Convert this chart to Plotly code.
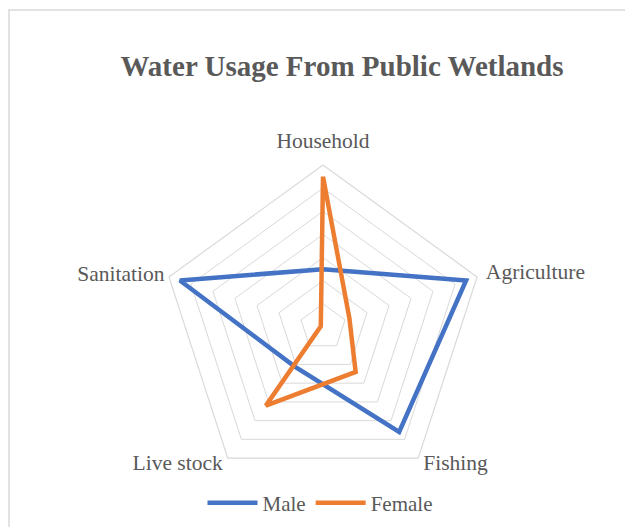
import plotly.graph_objects as go

categories = ["Household", "Agriculture", "Fishing", "Live stock", "Sanitation"]
male = [25, 65, 56, 21, 65]
female = [65, 12, 24, 42, 1]
series_names = ["Male", "Female"]
colors = ["#4472C4", "#ED7D31"]

W, H = 625, 527
cx, cy, R = 323, 327, 162
RMAX = 70
LMAX = 80  # range of the overlay polar used for category labels
R2 = R * LMAX / RMAX

fig = go.Figure()
for name, vals, col in zip(series_names, [male, female], colors):
    fig.add_trace(go.Scatterpolar(
        r=vals + vals[:1],
        theta=categories + categories[:1],
        mode="lines",
        name=name,
        line=dict(color=col, width=4.5),
        subplot="polar",
    ))

# category labels on an overlay polar sharing the same centre and scale
label_r = [79.5, 74, 73.7, 73.7, 72]
label_pos = ["middle center", "middle right", "middle right", "middle left", "middle left"]
fig.add_trace(go.Scatterpolar(
    r=label_r, theta=categories, mode="text", text=categories,
    textposition=label_pos, showlegend=False, hoverinfo="skip", cliponaxis=False,
    textfont=dict(family="Liberation Serif", size=21.5, color="#595959"),
    subplot="polar2",
))

hidden_axis = dict(showgrid=False, showline=False, showticklabels=False, ticks="")

fig.update_layout(
    width=W, height=H,
    margin=dict(l=0, r=0, t=0, b=0),
    paper_bgcolor="white",
    plot_bgcolor="white",
    font=dict(family="Liberation Serif", color="#595959", size=21),
    title=dict(
        text="<b>Water Usage From Public Wetlands</b>",
        x=342 / W, y=1 - 66 / H, xanchor="center", yanchor="middle",
        font=dict(family="Liberation Serif", size=29, color="#595959"),
    ),
    polar=dict(
        domain=dict(x=[(cx - R) / W, (cx + R) / W], y=[(H - cy - R) / H, (H - cy + R) / H]),
        gridshape="linear",
        bgcolor="white",
        radialaxis=dict(range=[0, RMAX], dtick=10, showticklabels=False, ticks="",
                        showline=False, gridcolor="#d9d9d9", gridwidth=1.2),
        angularaxis=dict(direction="clockwise", rotation=90, showgrid=False,
                         showline=True, linecolor="#d9d9d9", linewidth=1.2,
                         ticks="", showticklabels=False),
    ),
    polar2=dict(
        domain=dict(x=[(cx - R2) / W, (cx + R2) / W], y=[(H - cy - R2) / H, (H - cy + R2) / H]),
        gridshape="linear",
        bgcolor="rgba(0,0,0,0)",
        radialaxis=dict(range=[0, LMAX], **hidden_axis),
        angularaxis=dict(direction="clockwise", rotation=90, **hidden_axis),
    ),
    legend=dict(orientation="h", x=320 / W, y=24 / H, xanchor="center", yanchor="middle",
                font=dict(family="Liberation Serif", size=21, color="#595959"),
                itemwidth=50, bgcolor="rgba(0,0,0,0)"),
    shapes=[dict(type="rect", xref="paper", yref="paper",
                 x0=9 / W, x1=1.05, y0=-0.05, y1=1 - 10 / H,
                 line=dict(color="#d9d9d9", width=1.5), fillcolor="rgba(0,0,0,0)", layer="below")],
)

fig.write_html("out.html")
